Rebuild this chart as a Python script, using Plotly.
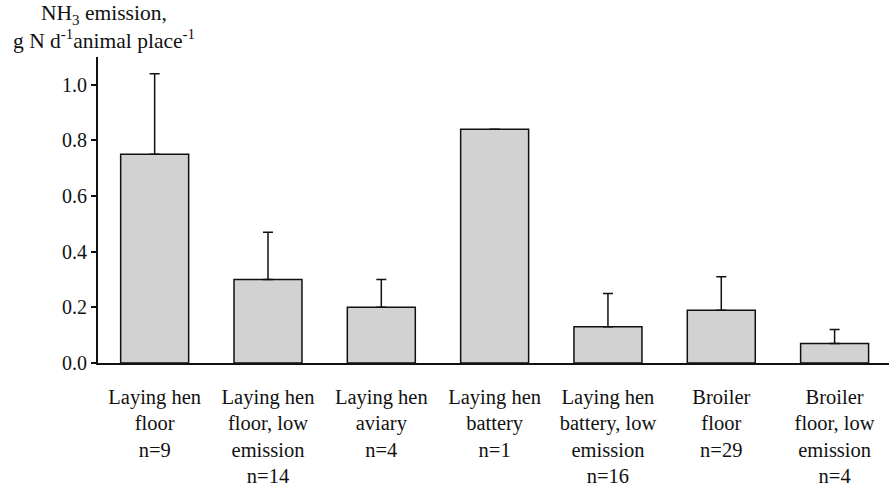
import plotly.graph_objects as go

categories = [
    "Laying hen<br>floor<br>n=9",
    "Laying hen<br>floor, low<br>emission<br>n=14",
    "Laying hen<br>aviary<br>n=4",
    "Laying hen<br>battery<br>n=1",
    "Laying hen<br>battery, low<br>emission<br>n=16",
    "Broiler<br>floor<br>n=29",
    "Broiler<br>floor, low<br>emission<br>n=4",
]
emission = [0.75, 0.30, 0.20, 0.84, 0.13, 0.19, 0.07]
error_plus = [0.29, 0.17, 0.10, 0.0, 0.12, 0.12, 0.05]
y_ticks = [0.0, 0.2, 0.4, 0.6, 0.8, 1.0]
y_ticklabels = ["0.0", "0.2", "0.4", "0.6", "0.8", "1.0"]
title_lines = ["NH<sub>3</sub> emission,", "g N d<sup>-1</sup>animal place<sup>-1</sup>"]

FONT = "Liberation Serif, Times New Roman, serif"

W, H = 889, 486
L, T, B = 98, 57, 123
plot_w = W - L
plot_h = H - T - B

x_idx = list(range(len(categories)))

fig = go.Figure()
fig.add_trace(go.Bar(
    x=x_idx,
    y=emission,
    width=0.6,
    marker=dict(color="#d1d2d1", line=dict(color="#111111", width=1.5)),
    error_y=dict(type="data", array=error_plus, arrayminus=[0] * len(emission),
                 symmetric=False, color="#111111", thickness=1.5, width=5),
    showlegend=False,
))

fig.update_layout(
    width=W, height=H,
    margin=dict(l=L, r=0, t=T, b=B, pad=0),
    paper_bgcolor="white", plot_bgcolor="white",
    font=dict(family=FONT, size=20, color="#111111"),
)
fig.update_xaxes(
    range=[-0.5, 6.48],
    tickvals=x_idx, ticktext=categories,
    showline=True, linecolor="#111111", linewidth=1.8,
    ticks="", showgrid=False, zeroline=False,
    ticklabelstandoff=14,
    tickfont=dict(family=FONT, size=20.5, color="#111111"),
)
fig.update_yaxes(
    range=[0, 1.1],
    tickvals=y_ticks, ticktext=y_ticklabels,
    showline=True, linecolor="#111111", linewidth=1.8,
    ticks="outside", ticklen=5, tickwidth=1.5, tickcolor="#111111",
    showgrid=False, zeroline=False,
    tickfont=dict(family=FONT, size=20, color="#111111"),
)

def px_to_paper(px, py):
    return (px - L) / plot_w, (H - B - py) / plot_h

for text, (cx, cy) in zip(title_lines, [(104, 14), (104, 40)]):
    fx, fy = px_to_paper(cx, cy)
    fig.add_annotation(
        x=fx, y=fy, xref="paper", yref="paper",
        text=text, showarrow=False, xanchor="center", yanchor="middle",
        font=dict(family=FONT, size=21.5, color="#111111"),
    )
fig.write_html("out.html")
